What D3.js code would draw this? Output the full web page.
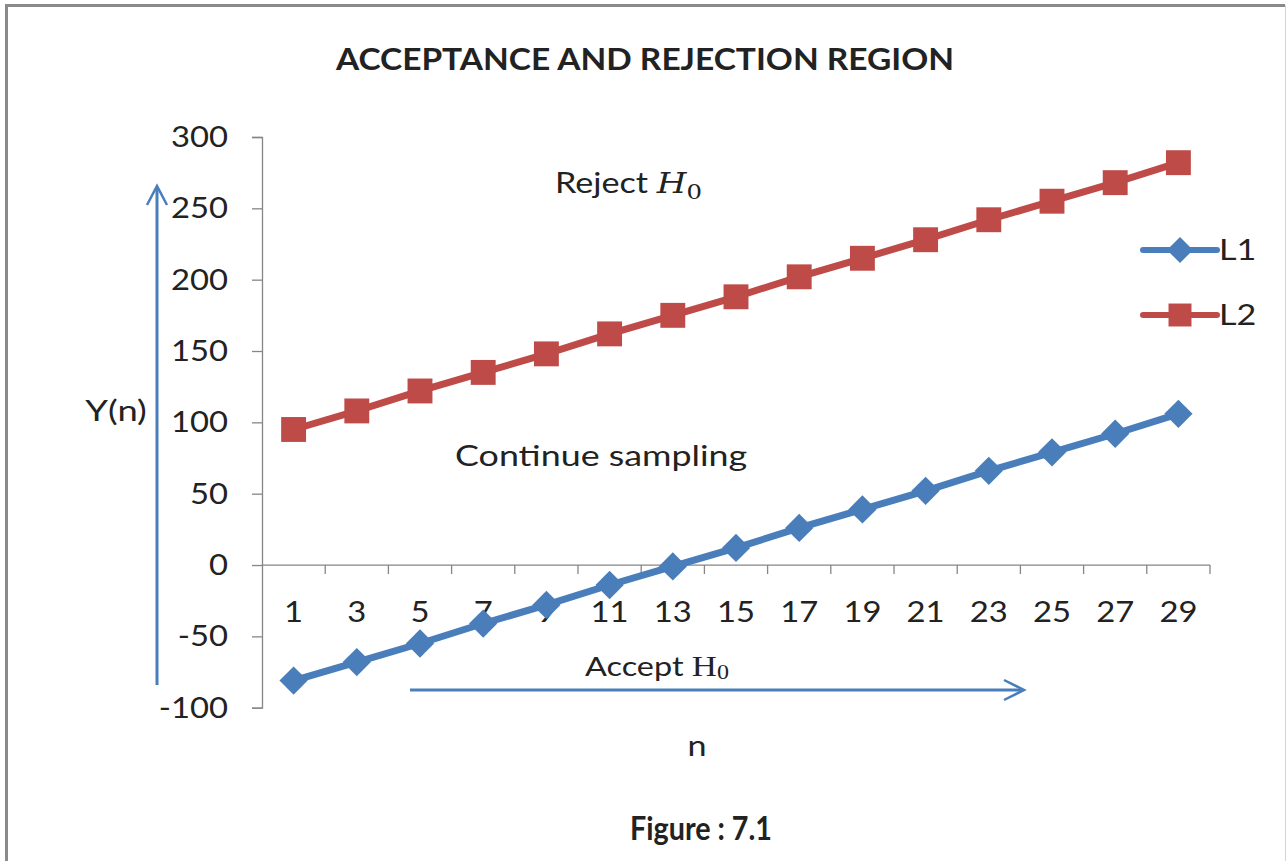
<!DOCTYPE html>
<html>
<head>
<meta charset="utf-8">
<script src="https://cdn.jsdelivr.net/npm/d3@7"></script>
<style>
  html, body { margin: 0; padding: 0; background: #fff; }
  svg { display: block; }
  text { font-family: Lato, "Open Sans", sans-serif; fill: #222; }
</style>
</head>
<body>
<svg id="chart" width="1287" height="861"></svg>
<script>
// Sample number n (odd values shown on the category axis)
const categories = ["1","3","5","7","9","11","13","15","17","19","21","23","25","27","29"];
// Lower (acceptance) boundary line
const L1 = [-81, -68, -55, -41, -28, -14, -1, 12, 26, 39, 52, 66, 79, 92, 106];
// Upper (rejection) boundary line
const L2 = [95, 108, 122, 135, 148, 162, 175, 188, 202, 215, 228, 242, 255, 268, 282];
const yTicks = [-100, -50, 0, 50, 100, 150, 200, 250, 300];
const seriesNames = ["L1", "L2"];

const svg = d3.select("#chart");
const W = 1287, H = 861;

// Text helper: places a label at an anchor point, optionally widened horizontally
function label(parent, x, y, str, opts = {}) {
  const g = parent.append("g")
    .attr("transform", `translate(${x},${y}) scale(${opts.sx || 1},1)`);
  const t = g.append("text")
    .attr("text-anchor", opts.anchor || "start")
    .attr("font-size", opts.size || 28)
    .attr("font-weight", opts.weight || "normal")
    .attr("fill", opts.fill || "#222");
  if (opts.dy) t.attr("dy", opts.dy);
  if (str !== null) t.text(str);
  return t;
}

// Frame
svg.append("line").attr("x1", 6.5).attr("x2", 6.5).attr("y1", 5).attr("y2", H).attr("stroke", "#8a8a8a").attr("stroke-width", 3);
svg.append("line").attr("x1", 5).attr("x2", 1285).attr("y1", 5.5).attr("y2", 5.5).attr("stroke", "#8a8a8a").attr("stroke-width", 3);
svg.append("line").attr("x1", 1285.5).attr("x2", 1285.5).attr("y1", 5).attr("y2", H).attr("stroke", "#d4d4d4").attr("stroke-width", 1);

const x = d3.scaleBand().domain(categories).range([262, 1210]).padding(0);
const y = d3.scaleLinear().domain([-100, 300]).range([707.7, 137]);

const axisColor = "#868686";
const SX = 1.22;

// Y axis
const yAxis = svg.append("g").attr("transform", "translate(262,0)")
  .call(d3.axisLeft(y).tickValues(yTicks).tickSize(10).tickFormat(""));
yAxis.select(".domain").attr("stroke", axisColor).attr("stroke-width", 1.3);
yAxis.selectAll(".tick line").attr("stroke", axisColor).attr("stroke-width", 1.3);
yTicks.forEach(v => label(svg, 228, y(v), String(v), { anchor: "end", size: 28, sx: 1.17, dy: "0.36em" }));

// X axis along y = 0, ticks at category boundaries
const y0 = y(0);
const xg = svg.append("g");
xg.append("line").attr("x1", x.range()[0]).attr("x2", x.range()[1]).attr("y1", y0).attr("y2", y0)
  .attr("stroke", axisColor).attr("stroke-width", 1.3);
const bounds = categories.map(c => x(c)).concat([x(categories[categories.length - 1]) + x.bandwidth()]);
xg.selectAll("line.tk").data(bounds.slice(1)).enter().append("line").attr("class", "tk")
  .attr("x1", d => d).attr("x2", d => d).attr("y1", y0).attr("y2", y0 + 9)
  .attr("stroke", axisColor).attr("stroke-width", 1.3);
categories.forEach(c => label(xg, x(c) + x.bandwidth() / 2, 622, c, { anchor: "middle", size: 28, sx: 1.17 }));

// Series
const colors = { L1: "#4a7ebb", L2: "#be4b48" };
const series = [
  { name: seriesNames[0], values: L1, symbol: d3.symbolSquare, size: 400, rot: 45 },
  { name: seriesNames[1], values: L2, symbol: d3.symbolSquare, size: 620, rot: 0 }
];
const line = d3.line().x((d, i) => x(categories[i]) + x.bandwidth() / 2).y(d => y(d));

series.forEach(s => {
  const g = svg.append("g");
  g.append("path").datum(s.values).attr("d", line)
    .attr("fill", "none").attr("stroke", colors[s.name]).attr("stroke-width", 7).attr("stroke-linejoin", "round");
  g.selectAll("path.m").data(s.values).enter().append("path").attr("class", "m")
    .attr("d", d3.symbol().type(s.symbol).size(s.size))
    .attr("transform", (d, i) => `translate(${x(categories[i]) + x.bandwidth() / 2},${y(d)}) rotate(${s.rot})`)
    .attr("fill", colors[s.name]);
});

// Legend
const legendY = [250, 315];
series.forEach((s, i) => {
  const g = svg.append("g").attr("transform", `translate(0,${legendY[i]})`);
  g.append("line").attr("x1", 1143).attr("x2", 1217).attr("y1", 0).attr("y2", 0)
    .attr("stroke", colors[s.name]).attr("stroke-width", 6).attr("stroke-linecap", "round");
  g.append("path").attr("d", d3.symbol().type(s.symbol).size(s.size * 0.85))
    .attr("transform", `translate(1180,0) rotate(${s.rot})`).attr("fill", colors[s.name]);
  label(g, 1219, 0, s.name, { size: 28, sx: SX, dy: "0.36em" });
});

// Title and labels
label(svg, 645, 70, "ACCEPTANCE AND REJECTION REGION", { anchor: "middle", size: 31, weight: "bold", sx: 1.08, fill: "#111" });
label(svg, 116, 421, "Y(n)", { anchor: "middle", size: 28, sx: 1.3 });
label(svg, 697, 756, "n", { anchor: "middle", size: 28, sx: SX });
label(svg, 701, 840, "Figure : 7.1", { anchor: "middle", size: 33, weight: "bold", sx: 0.87, fill: "#111" });

// Region annotations
const rej = label(svg, 555, 193, null, { size: 28, sx: SX });
rej.append("tspan").text("Reject ");
rej.append("tspan").attr("font-family", "'DejaVu Serif', serif").attr("font-style", "italic").text("H");
rej.append("tspan").attr("font-family", "'DejaVu Serif', serif").attr("font-size", 20).attr("dy", 6).text("0");

label(svg, 455, 466, "Continue sampling", { size: 28, sx: 1.28 });

const acc = label(svg, 585, 676, null, { size: 27, sx: 1.2 });
acc.append("tspan").text("Accept ");
acc.append("tspan").attr("font-family", "'Liberation Serif', serif").attr("font-size", 29).text("H");
acc.append("tspan").attr("font-family", "'Liberation Serif', serif").attr("font-size", 20).attr("dy", 3).text("0");

// Direction arrows
const arrowColor = "#4a7ebb";
svg.append("line").attr("x1", 157).attr("x2", 157).attr("y1", 685).attr("y2", 187)
  .attr("stroke", arrowColor).attr("stroke-width", 3);
svg.append("path").attr("d", "M147,205 L157,186 L167,205").attr("fill", "none")
  .attr("stroke", arrowColor).attr("stroke-width", 2.5);
svg.append("line").attr("x1", 410).attr("x2", 1023).attr("y1", 690).attr("y2", 690)
  .attr("stroke", arrowColor).attr("stroke-width", 3);
svg.append("path").attr("d", "M1004,680 L1024,690 L1004,700").attr("fill", "none")
  .attr("stroke", arrowColor).attr("stroke-width", 2.5);
</script>
</body>
</html>
